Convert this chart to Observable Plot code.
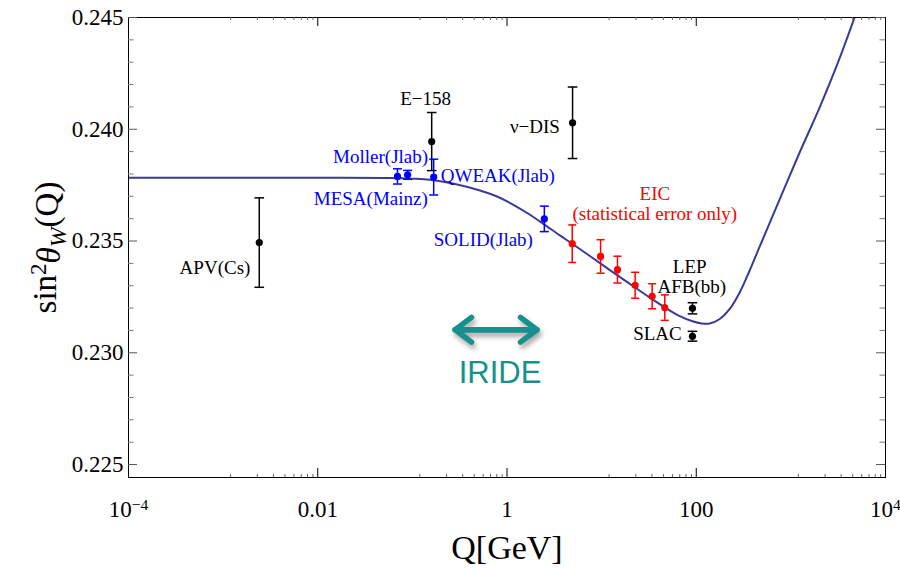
<!DOCTYPE html>
<html><head><meta charset="utf-8">
<script src="https://cdn.jsdelivr.net/npm/d3@7"></script>
<script src="https://cdn.jsdelivr.net/npm/@observablehq/plot@0.6"></script>
<style>
body{margin:0;background:#fff;}
#chart{width:900px;height:570px;}
</style></head><body><div id="chart"></div>
<script>
// ---- data ----
// running curve sin^2 theta_W(Q)
const curveQ = [1e-4, 0.01, 0.0582, 0.0994, 0.1539, 0.2827, 0.5188, 0.7843, 1.157, 1.665, 2.399, 3.626, 4.853, 7.516, 12.22, 19.87, 32.31, 46.51, 66.96, 89.66, 114.3, 138.8, 177.0, 225.7, 287.8, 366.9, 468.0, 760.8, 1237, 2011, 3269, 5316];
const curveS = [0.23783, 0.23783, 0.23782, 0.23779, 0.23774, 0.23755, 0.23726, 0.23699, 0.23663, 0.23623, 0.23578, 0.23525, 0.23489, 0.23433, 0.23370, 0.23308, 0.23247, 0.23203, 0.23164, 0.23142, 0.23131, 0.23131, 0.23151, 0.23196, 0.23270, 0.23368, 0.23475, 0.23686, 0.23896, 0.24097, 0.24317, 0.24563];

// existing measurements (black)
const blackQ   = [0.00241, 0.160, 4.93, 91.2, 91.2];
const blackS   = [0.23493, 0.23945, 0.24029, 0.23199, 0.23074];
const blackErr = [0.0020, 0.0013, 0.0016, 0.00025, 0.00022];

// future low-energy experiments (blue)
const blueQ   = [0.0696, 0.0891, 0.168, 2.48];
const blueS   = [0.23789, 0.23796, 0.23786, 0.23599];
const blueErr = [0.00034, 0.00020, 0.00080, 0.00057];

// EIC projections (red)
const redQ   = [4.89, 9.75, 14.7, 22.6, 34.2, 46.5];
const redS   = [0.23488, 0.23431, 0.23372, 0.23302, 0.23253, 0.23202];
const redErr = [0.00084, 0.00075, 0.00060, 0.00058, 0.00056, 0.00057];

// labels
const blackLabels = ["APV(Cs)", "E−158", "ν−DIS", "LEP", "AFB(bb)", "SLAC"];
const blackLabelQ = [0.00194, 0.138, 3.62, 85.4, 89.8, 70.3];
const blackLabelS = [0.23380, 0.24136, 0.24009, 0.23386, 0.23296, 0.23085];
const blueLabels = ["Moller(Jlab)", "QWEAK(Jlab)", "MESA(Mainz)", "SOLID(Jlab)"];
const blueLabelQ = [0.1466, 0.1996, 0.1455, 1.88];
const blueLabelS = [0.23878, 0.23790, 0.23690, 0.23505];
const redLabels = ["EIC", "(statistical error only)"];
const redLabelQ = [36.5, 36.5];
const redLabelS = [0.23713, 0.23622];
const irideLabel = ["IRIDE"];
const irideQ = [0.844];
const irideS = [0.22910];
// IRIDE double arrow: ends
const arrowQ = [0.283, 2.07];
const arrowS = [0.23103, 0.23103];

// ticks
const majorX = [1e-4, 1e-2, 1, 1e2, 1e4];
const minorX = [0.0012, 0.0023, 0.0034, 0.0045, 0.0056, 0.0067, 0.0078, 0.0089,
                0.12, 0.23, 0.34, 0.45, 0.56, 0.67, 0.78, 0.89,
                12, 23, 34, 45, 56, 67, 78, 89,
                1200, 2300, 3400, 4500, 5600, 6700, 7800, 8900];
const majorY = [0.225, 0.230, 0.235, 0.240, 0.245];
const minorY = [0.226, 0.227, 0.228, 0.229, 0.231, 0.232, 0.233, 0.234,
                0.236, 0.237, 0.238, 0.239, 0.241, 0.242, 0.243, 0.244];

// ---- styles ----
const anchors = {"APV(Cs)": "end", "E−158": "middle", "ν−DIS": "end", "LEP": "middle", "AFB(bb)": "middle", "SLAC": "end",
  "Moller(Jlab)": "end", "QWEAK(Jlab)": "start", "MESA(Mainz)": "end", "SOLID(Jlab)": "end",
  "EIC": "middle", "(statistical error only)": "middle"};

const W = 900, H = 570, mT = 17, mB = 93, mL = 128, mR = 15;
const fw = W - mL - mR, fh = H - mT - mB;

const pts = (Q, S, E) => Q.map((q, i) => ({q, s: S[i], e: E ? E[i] : 0}));
const labs = (T, Q, S) => T.map((t, i) => ({t, q: Q[i], s: S[i]}));
const curve = pts(curveQ, curveS);
const black = pts(blackQ, blackS, blackErr);
const blue = pts(blueQ, blueS, blueErr);
const red = pts(redQ, redS, redErr);

const cap = {draw(ctx, size) { const w = Math.sqrt(size / Math.PI); ctx.moveTo(-w, 0); ctx.lineTo(w, 0); }};

function errMarks(data, color, capR) {
  return [
    Plot.ruleX(data, {x: "q", y1: d => d.s - d.e, y2: d => d.s + d.e, stroke: color, strokeWidth: 1.5}),
    Plot.dot(data, {x: "q", y: d => d.s + d.e, symbol: cap, r: capR, stroke: color, strokeWidth: 1.5, fill: "none"}),
    Plot.dot(data, {x: "q", y: d => d.s - d.e, symbol: cap, r: capR, stroke: color, strokeWidth: 1.5, fill: "none"}),
    Plot.dot(data, {x: "q", y: "s", r: 3.6, fill: color, stroke: "none"})
  ];
}
function labelMarks(data, color) {
  return ["start", "middle", "end"].map(a => Plot.text(data.filter(d => anchors[d.t] === a),
    {x: "q", y: "s", text: "t", textAnchor: a, fill: color, fontSize: 19}));
}

const teal = "#16908c";
const arrowData = [{x1: arrowQ[1], x2: arrowQ[0], y1: arrowS[1], y2: arrowS[0]}, {x1: arrowQ[0], x2: arrowQ[1], y1: arrowS[0], y2: arrowS[1]}];

const chart = Plot.plot({
  width: W, height: H, marginTop: mT, marginBottom: mB, marginLeft: mL, marginRight: mR,
  style: {fontFamily: "'Liberation Serif', 'Times New Roman', serif", background: "#fff", color: "#000"},
  x: {type: "log", domain: [1e-4, 1e4]},
  y: {domain: [0.22442, 0.245]},
  marks: [
    Plot.line(curve, {x: "q", y: "s", stroke: "#3a3a98", strokeWidth: 2, curve: "catmull-rom", clip: true}),
    ...errMarks(black, "#000", 4.8),
    ...errMarks(blue, "#0000ff", 4.5),
    ...errMarks(red, "#ff0000", 4),
    ...labelMarks(labs(blackLabels, blackLabelQ, blackLabelS), "#000"),
    ...labelMarks(labs(blueLabels, blueLabelQ, blueLabelS), "#0000ff"),
    ...labelMarks(labs(redLabels, redLabelQ, redLabelS), "#ff0000"),
    Plot.arrow(arrowData, {x1: "x1", y1: "y1", x2: "x2", y2: "y2", stroke: teal, strokeWidth: 5.5, headLength: 5.6, headAngle: 74, strokeLinecap: "round", strokeLinejoin: "round"}),
    Plot.text(labs(irideLabel, irideQ, irideS), {x: "q", y: "s", text: "t", fill: teal, fontSize: 31, fontFamily: "'Liberation Sans', Arial, sans-serif"}),
    // frame & inward ticks
    Plot.frame({stroke: "#000", strokeWidth: 1}),
    Plot.tickX(majorX, {x: d => d, insetTop: fh - 9, stroke: "#000"}),
    Plot.tickX(majorX, {x: d => d, insetBottom: fh - 9, stroke: "#000"}),
    Plot.tickX(minorX, {x: d => d, insetTop: fh - 3, stroke: "#666"}),
    Plot.tickX(minorX, {x: d => d, insetBottom: fh - 3, stroke: "#666"}),
    Plot.tickY(majorY, {y: d => d, insetRight: fw - 9, stroke: "#555"}),
    Plot.tickY(majorY, {y: d => d, insetLeft: fw - 9, stroke: "#555"}),
    Plot.tickY(minorY, {y: d => d, insetRight: fw - 5.5, stroke: "#777"}),
    Plot.tickY(minorY, {y: d => d, insetLeft: fw - 5.5, stroke: "#777"}),
    Plot.axisY({ticks: majorY, tickFormat: d3.format(".3f"), tickSize: 0, tickPadding: 5, fontSize: 23, label: null}),
    Plot.axisX({ticks: majorX, tickFormat: d => d === 1e-4 ? "EM4" : d === 1e4 ? "EP4" : d3.format("~g")(d), tickSize: 0, tickPadding: 23, fontSize: 23, label: null}),
    Plot.text(["Q[GeV]"], {frameAnchor: "bottom", textAnchor: "middle", lineAnchor: "middle", dy: 71, fontSize: 34}),
    Plot.text(["YLABEL"], {frameAnchor: "left", textAnchor: "middle", lineAnchor: "middle", dx: -83, rotate: -90, fontSize: 33})
  ]
});
document.getElementById("chart").appendChild(chart);

// ---- post-processing: superscripts, y label, arrow shadow ----
const svg = d3.select(chart);
svg.selectAll("text").each(function() {
  const t = d3.select(this);
  const s = this.textContent;
  if (s === "EM4" || s === "EP4") {
    t.text("");
    t.append("tspan").text("10");
    t.append("tspan").attr("dy", "-0.45em").attr("font-size", "68%").text(s === "EM4" ? "−4" : "4");
  } else if (s === "YLABEL") {
    t.text("");
    t.append("tspan").text("sin");
    t.append("tspan").attr("dy", "-0.42em").attr("font-size", "70%").text("2");
    t.append("tspan").attr("dy", "0.42em").attr("font-style", "italic").text("θ");
    t.append("tspan").attr("dy", "0.25em").attr("font-size", "72%").attr("font-style", "italic").text("W");
    t.append("tspan").attr("dy", "-0.25em").text("(Q)");
  }
});
svg.selectAll('g[aria-label="arrow"]').style("filter", "drop-shadow(2px 4px 2.5px rgba(0,0,0,0.35))");
</script></body></html>
